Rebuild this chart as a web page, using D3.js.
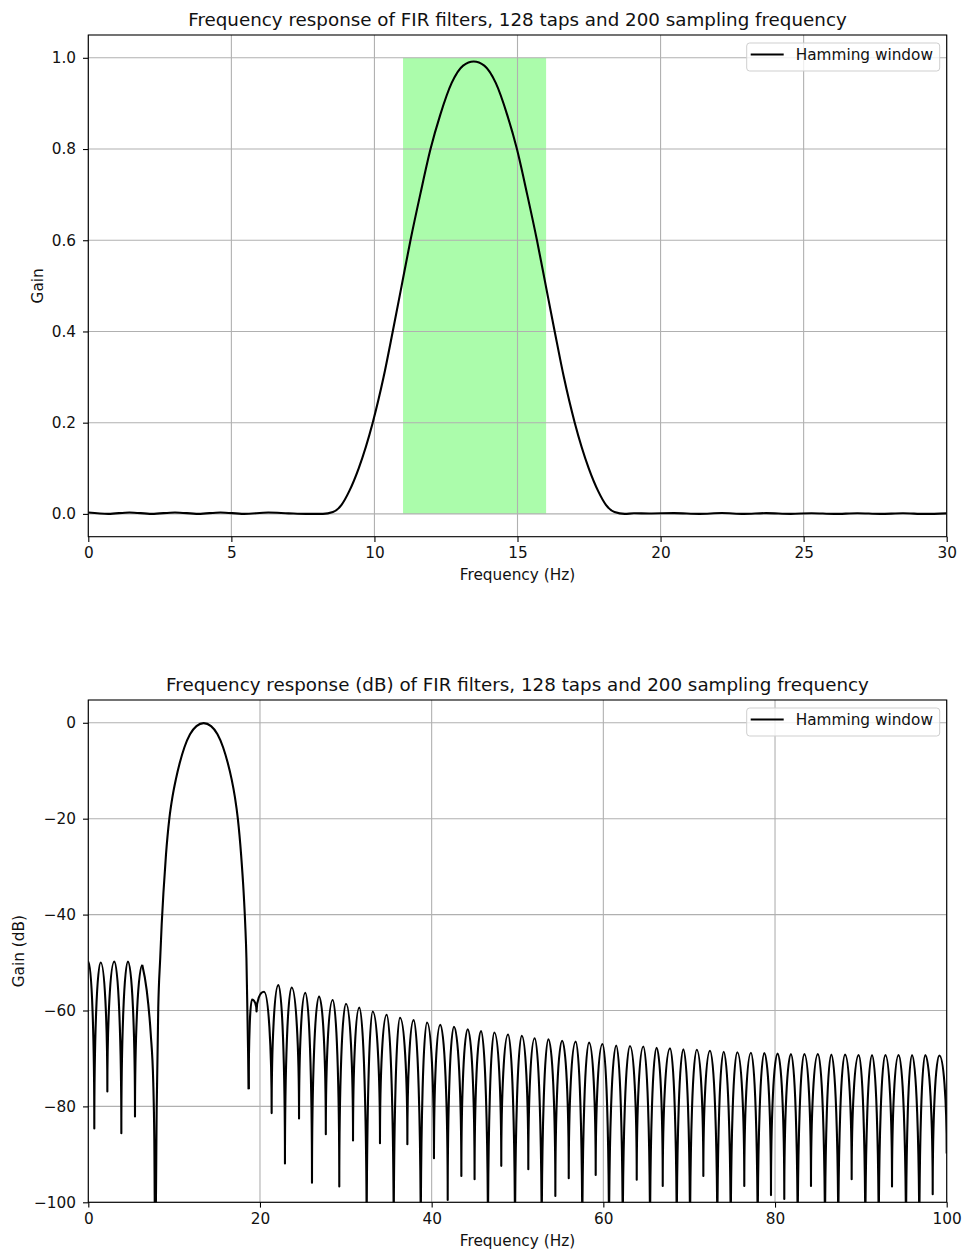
<!DOCTYPE html>
<html>
<head>
<meta charset="utf-8">
<script src="https://cdn.jsdelivr.net/npm/d3@7/dist/d3.min.js"></script>
<style>
  body { margin: 0; background: #fff; }
</style>
</head>
<body>
<div id="canvas"></div>
<script>
/* global d3 */

// ---- data ----
const bandStart = 11
const bandEnd = 16
const seriesName = 'Hamming window'

const gainXTicks = [0, 5, 10, 15, 20, 25, 30]
const gainYTicks = [0, 0.2, 0.4, 0.6, 0.8, 1.0]
const dbXTicks = [0, 20, 40, 60, 80, 100]
const dbYTicks = [0, -20, -40, -60, -80, -100]

// linear gain, 0-30 Hz
const gainFreq = [0, 0.70, 1.44, 2.22, 3.03, 3.85, 4.62, 5.44, 6.29, 7.0,
  7.6, 8.2, 8.55, 8.85, 9.12, 9.45, 9.94, 10.32, 10.64, 10.95,
  11.26, 11.6, 11.96, 12.3, 12.7, 13.1, 13.47, 13.84, 14.24, 14.64,
  14.98, 15.34, 15.68, 15.99, 16.3, 16.62, 17.0, 17.49, 17.82, 18.09,
  18.39, 18.75, 19.07, 19.6, 20.47, 21.36, 22.14, 22.91, 23.69, 24.55,
  25.28, 26.06, 26.88, 27.67, 28.47, 29.24, 30.0]
const gainValue = [0.0032, 0.0001, 0.0032, 0.0001, 0.0032, 0.0001, 0.0032, 0.0001, 0.003, 0.0012,
  0.0, 0.0, 0.004, 0.02, 0.05, 0.1, 0.2, 0.3, 0.4, 0.5,
  0.6, 0.7, 0.8, 0.875, 0.945, 0.983, 0.992, 0.983, 0.945, 0.875,
  0.8, 0.7, 0.6, 0.5, 0.4, 0.3, 0.2, 0.1, 0.05, 0.02,
  0.004, 0.0, 0.0013, 0.001, 0.0016, 0.0001, 0.0018, 0.0, 0.0017, 0.0001,
  0.0015, 0.0, 0.0014, 0.0001, 0.0013, 0.0, 0.0012]

// dB response: side lobes below the pass band (peak, null, peak ...)
const lowLobeFreq = [0, 0.70, 1.44, 2.22, 3.03, 3.85, 4.62, 5.44, 6.29]
const lowLobeDb = [-49.8, -84.6, -50.0, -76.9, -49.8, -85.6, -49.8, -82.1, -50.5]

// dB response: main lobe
const mainLobeFreq = [6.29, 6.8, 7.27, 7.57, 7.69, 7.8, 7.97, 8.15, 8.38, 8.55,
  8.75, 9.05, 9.44, 9.8, 10.2, 10.65, 11.2, 11.85, 12.6, 13.44,
  14.3, 15.05, 15.7, 16.25, 16.7, 17.08, 17.42, 17.8, 18.1, 18.28,
  18.42, 18.55, 18.69]
const mainLobeDb = [-50.5, -55.7, -64.8, -75.2, -86.9, -112, -80, -59.5, -49, -42,
  -35.5, -27.5, -20, -15.5, -11.8, -8.4, -5.1, -2.4, -0.7, -0.07,
  -0.7, -2.4, -5.1, -8.4, -11.8, -15.5, -20, -27.5, -35.5, -42,
  -49, -62, -76.4]

// dB response: side lobes above the pass band (null, peak, null ...)
const highLobeFreq = [18.69, 19.07, 19.6, 20.47, 21.36, 22.14, 22.91, 23.69, 24.55, 25.28,
  26.06, 26.88, 27.67, 28.47, 29.24, 30.02, 30.84, 31.57, 32.43, 33.13,
  33.98, 34.76, 35.58, 36.31, 37.17, 37.9, 38.73, 39.46, 40.27, 41.0,
  41.87, 42.6, 43.46, 44.2, 45.0, 45.75, 46.56, 47.3, 48.11, 48.9,
  49.71, 50.5, 51.26, 52.0, 52.82, 53.6, 54.41, 55.2, 55.97, 56.78,
  57.55, 58.33, 59.11, 59.9, 60.66, 61.5, 62.26, 63.1, 63.89, 64.66,
  65.44, 66.2, 66.92, 67.77, 68.55, 69.32, 70.1, 70.88, 71.65, 72.43,
  73.28, 74.02, 74.84, 75.6, 76.42, 77.2, 77.98, 78.75, 79.53, 80.3,
  81.08, 81.86, 82.64, 83.41, 84.19, 85.0, 85.82, 86.56, 87.37, 88.15,
  88.93, 89.75, 90.52, 91.3, 92.08, 92.85, 93.63, 94.4, 95.26, 95.96,
  96.81, 97.5, 98.37, 99.14, 100]
const highLobeDb = [-76.4, -57.7, -60.2, -56.1, -81.4, -54.7, -91.9, -55.2, -82.5, -56.3,
  -95.9, -57.1, -85.8, -57.8, -96.7, -58.6, -87.1, -59.4, -110, -60.2,
  -87.7, -60.9, -110, -61.5, -87.9, -62.0, -110, -62.5, -90.8, -63.0,
  -99.5, -63.4, -94.5, -63.9, -95.2, -64.3, -110, -64.6, -92.4, -65.0,
  -110, -65.3, -93.1, -65.8, -110, -66.0, -98.7, -66.3, -95.0, -66.5,
  -110, -66.7, -94.3, -67.0, -110, -67.3, -110, -67.4, -95.3, -67.5,
  -110, -67.8, -96.6, -67.9, -110, -68.1, -110, -68.2, -94.5, -68.4,
  -110, -68.6, -110, -68.7, -96.6, -68.8, -110, -68.9, -98.5, -69.0,
  -99.3, -69.1, -110, -69.1, -96.6, -69.1, -110, -69.2, -110, -69.2,
  -95.2, -69.3, -110, -69.3, -110, -69.3, -96.7, -69.3, -110, -69.3,
  -110, -69.3, -98.3, -69.4, -89.8]

// ---- layout ----
const W = 962, H = 1252
const FONT = 'DejaVu Sans, sans-serif'
const TICK_FS = 15.3
const TITLE_FS = 18.3

const gainBox = {left: 88.3, right: 946.7, top: 35, bottom: 536.7}
const dbBox = {left: 88.3, right: 946.7, top: 700, bottom: 1202.3}

var svg = d3.select('#canvas')
  .append('svg')
  .attr('width', W)
  .attr('height', H)
  .attr('font-family', FONT)

svg.append('rect').attr('width', W).attr('height', H).attr('fill', '#fff')

const zip = (xs, ys) => xs.map((x, i) => [x, ys[i]])

// side lobe curve: vertical into each null, flat over each peak
function lobeCurve (context) {
  let x0, y0, n
  return {
    areaStart () {},
    areaEnd () {},
    lineStart () { n = 0 },
    lineEnd () {},
    point (x, y) {
      const k = 0.55
      if (n++ === 0) {
        context.moveTo(x, y)
      } else if (y < y0) {
        context.bezierCurveTo(x0, y0 + k * (y - y0), x - k * (x - x0), y, x, y)
      } else {
        context.bezierCurveTo(x0 + k * (x - x0), y0, x, y - k * (y - y0), x, y)
      }
      x0 = x
      y0 = y
    }
  }
}

function drawPanel (box, opts) {
  const x = d3.scaleLinear().domain(opts.xDomain).range([box.left, box.right])
  const y = d3.scaleLinear().domain(opts.yDomain).range([box.bottom, box.top])
  const g = svg.append('g')
  const clipId = 'clip' + opts.id

  g.append('clipPath').attr('id', clipId)
    .append('rect')
    .attr('x', box.left).attr('y', box.top)
    .attr('width', box.right - box.left).attr('height', box.bottom - box.top)

  if (opts.band) {
    g.append('rect')
      .attr('x', x(opts.band[0]))
      .attr('y', y(1))
      .attr('width', x(opts.band[1]) - x(opts.band[0]))
      .attr('height', y(0) - y(1))
      .attr('fill', '#abfcab')
  }

  // grid
  g.append('g').selectAll('line')
    .data(opts.xTicks)
    .enter().append('line')
    .attr('x1', d => x(d)).attr('x2', d => x(d))
    .attr('y1', box.top).attr('y2', box.bottom)
    .attr('stroke', '#b0b0b0').attr('stroke-width', 1.1)
  g.append('g').selectAll('line')
    .data(opts.yTicks)
    .enter().append('line')
    .attr('x1', box.left).attr('x2', box.right)
    .attr('y1', d => y(d)).attr('y2', d => y(d))
    .attr('stroke', '#b0b0b0').attr('stroke-width', 1.1)

  // curves
  const plot = g.append('g').attr('clip-path', `url(#${clipId})`)
  opts.curves.forEach(c => {
    const line = d3.line()
      .x(d => x(d[0]))
      .y(d => y(d[1]))
      .curve(c.curve)
    plot.append('path')
      .datum(c.data)
      .attr('d', line)
      .attr('fill', 'none')
      .attr('stroke', '#000')
      .attr('stroke-width', 2.1)
      .attr('stroke-linejoin', 'round')
  })

  // axes
  const xAxis = g.append('g')
    .attr('transform', `translate(0,${box.bottom})`)
    .call(d3.axisBottom(x).tickValues(opts.xTicks).tickSize(5.3).tickPadding(5.5))
  const yAxis = g.append('g')
    .attr('transform', `translate(${box.left},0)`)
    .call(d3.axisLeft(y).tickValues(opts.yTicks).tickFormat(opts.yFormat).tickSize(5.3).tickPadding(7))
  ;[xAxis, yAxis].forEach(a => {
    a.attr('font-family', FONT).attr('font-size', TICK_FS)
    a.select('.domain').remove()
    a.selectAll('.tick line').attr('stroke', '#000').attr('stroke-width', 1.1)
    a.selectAll('.tick text').attr('fill', '#111')
  })

  // spines
  g.append('rect')
    .attr('x', box.left).attr('y', box.top)
    .attr('width', box.right - box.left).attr('height', box.bottom - box.top)
    .attr('fill', 'none').attr('stroke', '#000').attr('stroke-width', 1.1)

  // title and labels
  const cx = (box.left + box.right) / 2
  g.append('text')
    .attr('x', cx).attr('y', box.top - 9.5)
    .attr('text-anchor', 'middle')
    .attr('font-size', TITLE_FS)
    .attr('fill', '#111')
    .text(opts.title)
  g.append('text')
    .attr('x', cx).attr('y', box.bottom + 43.4)
    .attr('text-anchor', 'middle')
    .attr('font-size', TICK_FS)
    .attr('fill', '#111')
    .text('Frequency (Hz)')
  g.append('text')
    .attr('transform', `translate(${opts.yLabelX},${(box.top + box.bottom) / 2}) rotate(-90)`)
    .attr('text-anchor', 'middle')
    .attr('font-size', TICK_FS)
    .attr('fill', '#111')
    .text(opts.yLabel)

  // legend
  const lg = g.append('g').attr('transform', `translate(${box.right - 200},${box.top + 8})`)
  lg.append('rect')
    .attr('width', 193).attr('height', 28).attr('rx', 3)
    .attr('fill', '#fff').attr('fill-opacity', 0.8)
    .attr('stroke', '#cfcfcf').attr('stroke-width', 1)
  lg.append('line')
    .attr('x1', 4).attr('x2', 37).attr('y1', 11.5).attr('y2', 11.5)
    .attr('stroke', '#000').attr('stroke-width', 2.1)
  lg.append('text')
    .attr('x', 49).attr('y', 17)
    .attr('font-size', TICK_FS)
    .attr('fill', '#111')
    .text(seriesName)
}

drawPanel(gainBox, {
  id: 'gain',
  xDomain: [0, 30],
  yDomain: [-0.05, 1.05],
  xTicks: gainXTicks,
  yTicks: gainYTicks,
  yFormat: d3.format('.1f'),
  band: [bandStart, bandEnd],
  title: 'Frequency response of FIR filters, 128 taps and 200 sampling frequency',
  yLabel: 'Gain',
  yLabelX: 42.5,
  curves: [
    {data: zip(gainFreq, gainValue), curve: d3.curveMonotoneX}
  ]
})

drawPanel(dbBox, {
  id: 'db',
  xDomain: [0, 100],
  yDomain: [-100, 4.75],
  xTicks: dbXTicks,
  yTicks: dbYTicks,
  yFormat: d3.format('d'),
  title: 'Frequency response (dB) of FIR filters, 128 taps and 200 sampling frequency',
  yLabel: 'Gain (dB)',
  yLabelX: 23.5,
  curves: [
    {data: zip(lowLobeFreq, lowLobeDb), curve: lobeCurve},
    {data: zip(mainLobeFreq, mainLobeDb), curve: d3.curveMonotoneX},
    {data: zip(highLobeFreq, highLobeDb), curve: lobeCurve}
  ]
})
</script>
</body>
</html>
